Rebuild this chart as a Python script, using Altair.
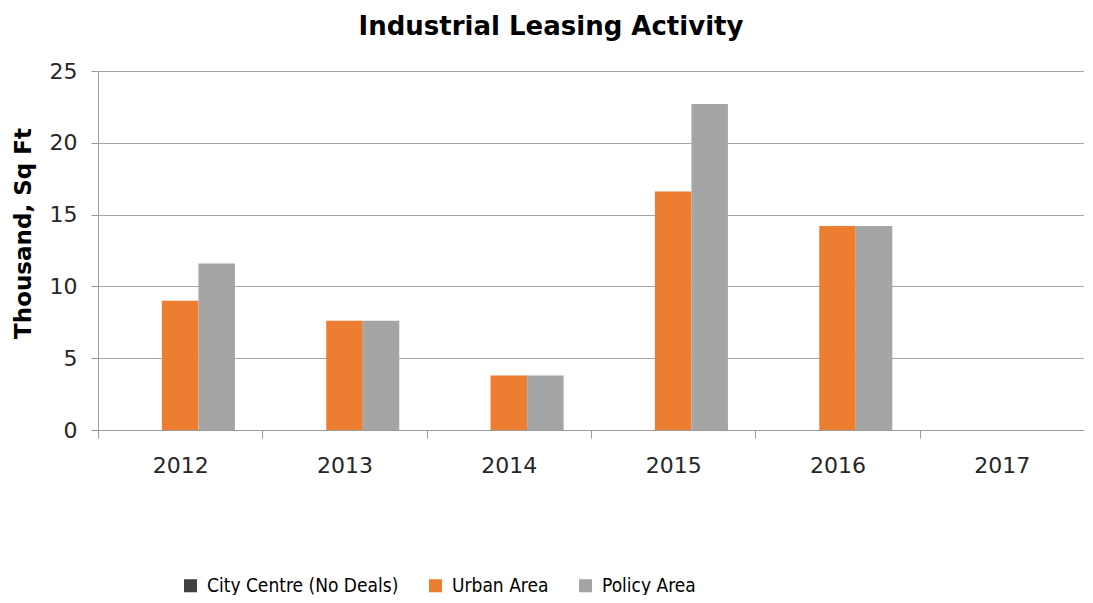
import altair as alt
import pandas as pd

years = ["2012", "2013", "2014", "2015", "2016", "2017"]
series = ["City Centre (No Deals)", "Urban Area", "Policy Area"]
city_centre = [0, 0, 0, 0, 0, 0]
urban_area = [9.0, 7.6, 3.8, 16.6, 14.2, 0]
policy_area = [11.6, 7.6, 3.8, 22.7, 14.2, 0]
colors = ["#404040", "#ED7D31", "#A5A5A5"]

rows = []
for name, vals in zip(series, [city_centre, urban_area, policy_area]):
    for y, v in zip(years, vals):
        rows.append({"Year": y, "Series": name, "Value": v})
df = pd.DataFrame(rows)

FONT = "DejaVu Sans"
LEGEND_FONT = "DejaVu Sans Condensed, Lato"

chart = alt.Chart(df).mark_bar().encode(
    x=alt.X("Year:N", sort=years,
            scale=alt.Scale(paddingInner=0, paddingOuter=0),
            axis=alt.Axis(title=None, labelAngle=0, tickBand="extent", tickSize=8,
                          labelPadding=17, labelFontSize=22, labelColor="#262626",
                          domainColor="#9a9a9a", tickColor="#9a9a9a", labelFont=FONT)),
    xOffset=alt.XOffset("Series:N", sort=series,
                        scale=alt.Scale(paddingInner=0, paddingOuter=0.75)),
    y=alt.Y("Value:Q", scale=alt.Scale(domain=[0, 25], nice=False),
            axis=alt.Axis(title="Thousand, Sq Ft", values=[0, 5, 10, 15, 20, 25],
                          tickSize=7, labelPadding=14, labelFontSize=22, labelColor="#262626",
                          titleFontSize=23, titleFont=FONT, titleFontWeight="bold",
                          titleColor="#000000", titlePadding=14, titleY=162, labelFont=FONT,
                          gridColor="#a6a6a6", domainColor="#9a9a9a", tickColor="#9a9a9a")),
    color=alt.Color("Series:N", sort=series,
                    scale=alt.Scale(domain=series, range=colors),
                    legend=alt.Legend(title=None, orient="none", direction="horizontal",
                                      legendX=83, legendY=505, symbolType="square",
                                      symbolSize=170, symbolStrokeWidth=0,
                                      labelFontSize=19, labelFont=LEGEND_FONT,
                                      labelColor="#000000", labelLimit=400,
                                      columnPadding=27, labelOffset=7)),
).properties(
    width=986,
    height=359,
    title=alt.TitleParams("Industrial Leasing Activity", fontSize=26, font=FONT,
                          fontWeight="bold", color="#000000", anchor="middle",
                          dx=-40, offset=20),
    autosize=alt.AutoSizeParams(type="none"),
    padding={"left": 90, "top": 63, "right": 0, "bottom": 165},
).configure_view(stroke=None)

chart.save("out.html", embed_options={"renderer": "svg", "actions": False})
